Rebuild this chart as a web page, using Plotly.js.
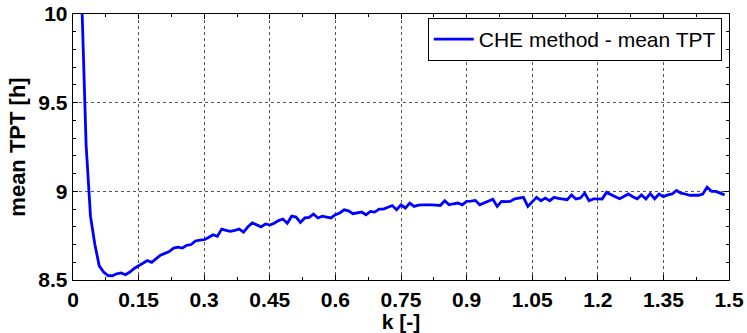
<!DOCTYPE html>
<html>
<head>
<meta charset="utf-8">
<script src="https://cdn.plot.ly/plotly-3.0.1.min.js"></script>
<style>html,body{margin:0;padding:0;background:#fff;}#chart{width:747px;height:333px;}</style>
</head>
<body>
<div id="chart"></div>
<script>
const kStart = 0.02;
const kStep = 0.01;
const meanTPT = [
  10.08, 9.26, 8.86, 8.70, 8.58, 8.545, 8.525, 8.524, 8.535, 8.54,
  8.53, 8.545, 8.565, 8.58, 8.595, 8.61, 8.60, 8.62, 8.64, 8.65,
  8.66, 8.68, 8.685, 8.68, 8.695, 8.70, 8.72, 8.725, 8.727, 8.74,
  8.755, 8.746, 8.787, 8.78, 8.774, 8.78, 8.787, 8.77, 8.80, 8.822,
  8.81, 8.80, 8.816, 8.81, 8.82, 8.835, 8.844, 8.82, 8.86, 8.855,
  8.825, 8.85, 8.853, 8.872, 8.85, 8.86, 8.855, 8.85, 8.868, 8.878,
  8.896, 8.89, 8.874, 8.88, 8.883, 8.868, 8.887, 8.883, 8.90, 8.90,
  8.91, 8.92, 8.896, 8.924, 8.906, 8.934, 8.915, 8.922, 8.924, 8.925,
  8.924, 8.922, 8.92, 8.947, 8.924, 8.93, 8.934, 8.924, 8.943, 8.945,
  8.949, 8.924, 8.935, 8.943, 8.955, 8.915, 8.943, 8.942, 8.943, 8.958,
  8.962, 8.966, 8.915, 8.94, 8.966, 8.947, 8.962, 8.947, 8.966, 8.96,
  8.958, 8.953, 8.98, 8.957, 8.962, 8.99, 8.947, 8.957, 8.958, 8.957,
  8.994, 8.98, 8.97, 8.958, 8.97, 8.985, 8.97, 8.958, 8.98, 8.957,
  8.987, 8.958, 8.985, 8.97, 8.98, 8.985, 9.005, 8.99, 8.985, 8.977,
  8.978, 8.978, 8.985, 9.024, 9.0, 9.0, 8.99, 8.98
];
const kValues = meanTPT.map((_, i) => +(kStart + i * kStep).toFixed(2));
const xTickVals = [0, 0.15, 0.3, 0.45, 0.6, 0.75, 0.9, 1.05, 1.2, 1.35, 1.5];
const xTickText = ['0', '0.15', '0.3', '0.45', '0.6', '0.75', '0.9', '1.05', '1.2', '1.35', '1.5'];
const yTickVals = [8.5, 9, 9.5, 10];
const yTickText = ['8.5', '9', '9.5', '10'];
const seriesName = 'CHE method - mean TPT';

const FONT = 'Liberation Sans, Arial, sans-serif';
const NARROW = 'Liberation Sans Narrow, Arial Narrow, Liberation Sans, sans-serif';

const trace = {
  x: kValues, y: meanTPT, type: 'scatter', mode: 'lines',
  name: seriesName,
  line: {color: '#0000ff', width: 2.8},
  cliponaxis: true
};

const axisCommon = {
  showline: true, linecolor: '#000', linewidth: 1.3, mirror: 'ticks',
  ticks: 'inside', ticklen: 5, tickcolor: '#000', tickwidth: 1,
  showgrid: true, gridcolor: '#555', griddash: 'dot', gridwidth: 1,
  zeroline: false,
  tickfont: {family: NARROW, size: 21, color: '#000', weight: 'bold'}
};

const layout = {
  width: 747, height: 333,
  margin: {l: 73, r: 18, t: 14, b: 53, pad: 0},
  paper_bgcolor: '#fff', plot_bgcolor: '#fff',
  showlegend: true,
  legend: {
    x: 0.989, xanchor: 'right', y: 0.985, yanchor: 'top',
    bgcolor: '#fff', bordercolor: '#000', borderwidth: 1,
    font: {family: FONT, size: 21, color: '#000'},
    tracegroupgap: 0, itemwidth: 40
  },
  xaxis: Object.assign({}, axisCommon, {
    range: [0, 1.5], tickvals: xTickVals, ticktext: xTickText,
    minor: {dtick: 0.075, tick0: 0, ticks: 'inside', ticklen: 3, tickcolor: '#000', showgrid: false},
    title: {text: 'k [-]', font: {family: NARROW, size: 21, color: '#000', weight: 'bold'}, standoff: 0}
  }),
  yaxis: Object.assign({}, axisCommon, {
    range: [8.5, 10], tickvals: yTickVals, ticktext: yTickText,
    minor: {dtick: 0.1, tick0: 8.5, ticks: 'inside', ticklen: 3, tickcolor: '#000', showgrid: false},
    title: {text: 'mean TPT [h]', font: {family: FONT, size: 22, color: '#000', weight: 'bold'}, standoff: 6}
  })
};

Plotly.newPlot('chart', [trace], layout, {displayModeBar: false, staticPlot: true});
</script>
</body>
</html>
